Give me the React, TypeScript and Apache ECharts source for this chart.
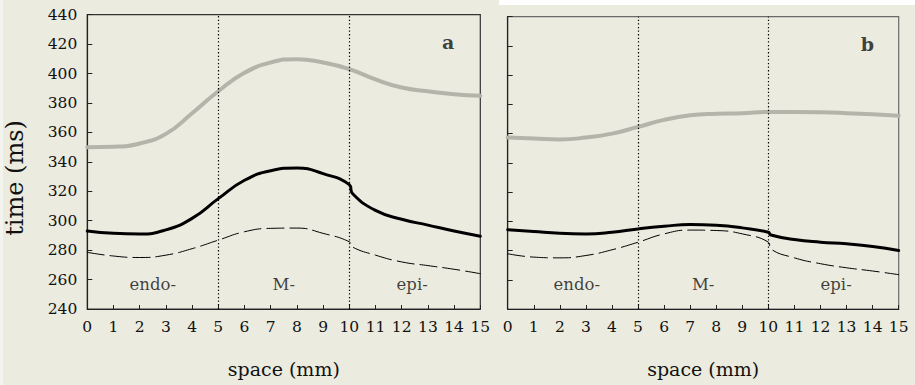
import React, { useEffect, useRef } from "react";
import * as echarts from "echarts";

// ---------- data ----------
const yMin = 240;
const yMax = 440;
const yStep = 20;
const xMin = 0;
const xMax = 15;
const xStep = 1;

const zones = ["endo-", "M-", "epi-"];
const zoneBorders = [5, 10];
const panelNames = ["a", "b"];

// panel a
const greyAX = [0, 1, 2, 3, 4, 5, 6, 7, 8, 9, 10, 11, 12, 13, 14, 15];
const greyAY = [350, 350.3, 352.5, 359, 373, 388, 400.5, 407.5, 409.8, 407.5, 403, 396, 390.5, 388, 386, 385];
const blackAX = [0, 1, 2, 3, 4, 5, 6, 7, 8, 9, 10, 10.12, 11, 12, 13, 14, 15];
const blackAY = [293, 291.4, 291, 293.8, 301.6, 315, 327.5, 334, 335.8, 332, 324.5, 318.5, 307, 301, 297, 293, 289.5];
const dashAX = [0, 1, 2, 3, 4, 5, 6, 7, 8, 9, 10, 10.1, 11, 12, 13, 14, 15];
const dashAY = [278.5, 276, 275, 276.6, 281, 286.8, 292.5, 294.8, 295, 291.4, 285.7, 282.3, 276.6, 272, 269.5, 267, 264];

// panel b
const greyBX = [0, 1, 2, 3, 4, 5, 6, 7, 8, 9, 10, 11, 12, 13, 14, 15];
const greyBY = [357.3, 356.6, 356, 357.3, 360, 364.6, 369.4, 372.5, 373.6, 374, 374.8, 374.8, 374.6, 374, 373.2, 372.3];
const blackBX = [0, 1, 2, 3, 4, 5, 6, 7, 8, 9, 10, 10.1, 11, 12, 13, 14, 15];
const blackBY = [294.3, 293, 291.8, 291.4, 292.5, 294.8, 296.6, 297.8, 297.3, 295.5, 292.5, 290.6, 287.5, 285.7, 284.6, 282.8, 280];
const dashBX = [0, 1, 2, 3, 4, 5, 6, 7, 8, 9, 10, 10.1, 11, 12, 13, 14, 15];
const dashBY = [277.8, 275.5, 275, 276.6, 280.5, 285.7, 291.4, 294, 293.7, 291.4, 285.7, 281, 275, 271, 268.2, 266, 263.5];

// label anchor positions (data units)
const zoneLabelXA = [2.5, 7.5, 12.4];
const zoneLabelXB = [2.65, 7.5, 12.6];
const zoneLabelY = 256.5;
const panelLabelX = [13.77, 13.8];
const panelLabelY = 421.5;

const FONT = "DejaVu Serif";
const BG = "#EBEBDF";
const GREY = "#B4B4AA";
const INK = "#111111";

const pairs = (xs: number[], ys: number[]) => xs.map((x, i) => [x, ys[i]]);

export default function App() {
  const ref = useRef<HTMLDivElement>(null);

  useEffect(() => {
    if (!ref.current) return;
    const chart = echarts.init(ref.current, undefined, { renderer: "svg" });

    const grids = [
      { left: 87.3, top: 14.7, width: 393, height: 294.3, borderColor: "#333333" },
      { left: 507.7, top: 16.7, width: 391, height: 292.3, borderColor: "#6a6a6a" },
    ];

    const xAxes = grids.map((_, i) => ({
      gridIndex: i,
      type: "value",
      min: xMin,
      max: xMax,
      interval: xStep,
      axisLine: { show: true, onZero: false, lineStyle: { color: "#222", width: 1.2 } },
      axisTick: { show: true, inside: true, length: 4, lineStyle: { color: "#222", width: 1 } },
      axisLabel: { margin: 10, fontFamily: FONT, fontSize: 15.5, color: INK },
      splitLine: { show: false },
      name: "space (mm)",
      nameLocation: "middle",
      nameGap: 50,
      nameTextStyle: { fontFamily: FONT, fontSize: 19, color: INK },
    }));

    const yAxes = grids.map((_, i) => ({
      gridIndex: i,
      type: "value",
      min: yMin,
      max: yMax,
      interval: yStep,
      axisLine: { show: true, onZero: false, lineStyle: { color: "#222", width: 1.2 } },
      axisTick: { show: true, inside: true, length: 5, lineStyle: { color: "#222", width: 1 } },
      axisLabel: { show: i === 0, margin: 10, fontFamily: FONT, fontSize: 15.5, color: INK },
      splitLine: { show: false },
    }));

    const lineSeries = (
      idx: number,
      xs: number[],
      ys: number[],
      color: string,
      width: number,
      type: any,
      withMarks: boolean
    ) => ({
      type: "line",
      xAxisIndex: idx,
      yAxisIndex: idx,
      data: pairs(xs, ys),
      showSymbol: false,
      symbol: "none",
      smooth: 0.5,
      lineStyle: { color, width, type, cap: "round", join: "round" },
      silent: true,
      z: 3,
      markLine: withMarks
        ? {
            silent: true,
            symbol: "none",
            label: { show: false },
            lineStyle: { type: [1.3, 2.3], color: "#000", width: 1.2 },
            data: zoneBorders.map((b) => ({ xAxis: b })),
          }
        : undefined,
    });

    const labelSeries = (idx: number, xs: number[]) => ({
      type: "scatter",
      xAxisIndex: idx,
      yAxisIndex: idx,
      symbolSize: 0,
      silent: true,
      data: zones.map((z, i) => ({ value: [xs[i], zoneLabelY], name: z })),
      label: {
        show: true,
        position: "inside",
        formatter: "{b}",
        fontFamily: FONT,
        fontSize: 16.5,
        color: INK,
      },
    });

    const panelSeries = (idx: number) => ({
      type: "scatter",
      xAxisIndex: idx,
      yAxisIndex: idx,
      symbolSize: 0,
      silent: true,
      data: [{ value: [panelLabelX[idx], panelLabelY], name: panelNames[idx] }],
      label: {
        show: true,
        position: "inside",
        formatter: "{b}",
        fontFamily: FONT,
        fontSize: 19,
        fontWeight: "bold",
        color: INK,
      },
    });

    chart.setOption({
      animation: false,
      backgroundColor: BG,
      grid: grids.map((g) => ({
        left: g.left,
        top: g.top,
        width: g.width,
        height: g.height,
        show: true,
        borderColor: g.borderColor,
        borderWidth: 1.2,
        backgroundColor: "transparent",
        containLabel: false,
      })),
      xAxis: xAxes,
      yAxis: yAxes,
      graphic: [
        { type: "rect", shape: { x: 499, y: 0, width: 416, height: 5 }, style: { fill: "#ffffff" }, z: 0 },
        { type: "rect", shape: { x: 0, y: 0, width: 3, height: 385 }, style: { fill: "#f4f4ee" }, z: 0 },
        {
          type: "text",
          x: 14.5,
          y: 178,
          rotation: Math.PI / 2,
          style: {
            text: "time (ms)",
            fontFamily: FONT,
            fontSize: 24,
            fill: INK,
            textAlign: "center",
            textVerticalAlign: "middle",
          },
        },
      ],
      series: [
        lineSeries(0, greyAX, greyAY, GREY, 4, "solid", false),
        lineSeries(0, blackAX, blackAY, "#000", 3, "solid", true),
        lineSeries(0, dashAX, dashAY, "#000", 1, [17, 6], false),
        lineSeries(1, greyBX, greyBY, GREY, 4, "solid", false),
        lineSeries(1, blackBX, blackBY, "#000", 3, "solid", true),
        lineSeries(1, dashBX, dashBY, "#000", 1, [17, 6], false),
        labelSeries(0, zoneLabelXA),
        labelSeries(1, zoneLabelXB),
        panelSeries(0),
        panelSeries(1),
      ],
    } as any);

    return () => chart.dispose();
  }, []);

  return (
    <div
      ref={ref}
      style={{ position: "absolute", left: 0, top: 0, width: 915, height: 385 }}
    />
  );
}
